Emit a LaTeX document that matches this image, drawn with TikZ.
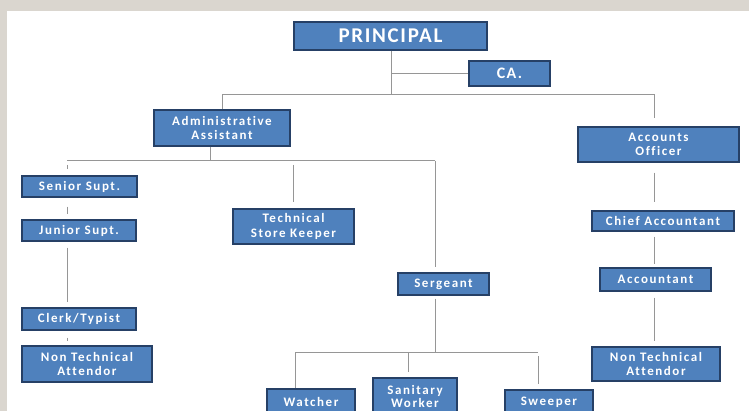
\documentclass[tikz,border=0pt]{standalone}
\usepackage{fontspec}
\usepackage{tikz}
\usetikzlibrary{positioning}
\newfontfamily\boxfont{Carlito}[LetterSpace=12, Ligatures={NoCommon}]
\newfontfamily\headfont{Carlito}[LetterSpace=8, Ligatures={NoCommon}]
\definecolor{boxblue}{RGB}{79,129,189}
\definecolor{boxedge}{RGB}{38,64,102}
\definecolor{linegray}{RGB}{150,150,150}
\definecolor{backgray}{RGB}{218,214,207}

\begin{document}
\begin{tikzpicture}[
    x=1pt, y=-1pt,              % 以像素为单位, y 向下
    % 职位方框样式
    post/.style={
        rectangle,              % 矩形
        draw=boxedge,           % 深蓝边框
        line width=1.2pt,       % 边框线宽
        fill=boxblue,           % 蓝色填充
        text=white,             % 白色文字
        font=\boxfont\bfseries\fontsize{13}{14.5}\selectfont,
        align=center,           % 多行居中
        inner sep=0pt           % 内部填充为0
    },
    % 方框尺寸
    wh/.style 2 args={
        minimum width=#1pt,
        minimum height=#2pt
    },
    % 连线样式
    link/.style={
        draw=linegray,          % 灰色连线
        line width=1pt          % 细线
    }
]

% 背景
\clip (0,0) rectangle (749,411);
\fill[backgray] (0,0) rectangle (749,411);
\fill[white] (7,11) rectangle (749,411);

% 定义节点
\node[post, wh={193}{28}, font=\headfont\bfseries\fontsize{21}{24}\selectfont] (principal) at (390.5,36) {PRINCIPAL};
\node[post, wh={81}{25}, font=\headfont\bfseries\fontsize{16}{20}\selectfont] (ca) at (509.5,73.5) {CA.};
\node[post, wh={136}{36}] (admin) at (222,128) {Administrative\\Assistant};
\node[post, wh={161}{35}] (accounts) at (658.5,144.5) {Accounts\\Officer};
\node[post, wh={115}{21}] (senior) at (79.5,186.5) {Senior Supt.};
\node[post, wh={114}{21}] (junior) at (79,230.5) {Junior Supt.};
\node[post, wh={121}{35}] (store) at (293.5,226.5) {Technical\\Store Keeper};
\node[post, wh={114}{22}] (clerk) at (79,319) {Clerk/Typist};
\node[post, wh={130}{36}] (ntaleft) at (87,364) {Non Technical\\Attendor};
\node[post, wh={91}{22}] (sergeant) at (443.5,284) {Sergeant};
\node[post, wh={88}{26}] (watcher) at (311,402) {Watcher};
\node[post, wh={84}{36}, font=\boxfont\bfseries\fontsize{13}{13}\selectfont] (sanitary) at (415,396) {Sanitary\\Worker};
\node[post, wh={88}{24}] (sweeper) at (549,402) {Sweeper};
\node[post, wh={142}{20}] (chief) at (663,221) {Chief Accountant};
\node[post, wh={111}{23}] (accountant) at (655.5,279.5) {Accountant};
\node[post, wh={128}{34}] (ntaright) at (656,364) {Non Technical\\Attendor};

% 分叉点
\coordinate (hub) at (391,95);
\coordinate (adminbus) at (210,161);
\coordinate (leftline) at (67,161);
\coordinate (sergbus) at (435,352);
\coordinate (rightline) at (654,0);
\coordinate (wbus) at (295,352);
\coordinate (sbus) at (408,352);
\coordinate (swbus) at (538,352);

% 第一层连线
\draw[link] (principal.south -| hub) -- (hub);
\draw[link] (ca.west -| hub) -- (ca.west);
\draw[link] (admin.north) |- (hub);
\draw[link, shorten >=8pt] (hub) -| (accounts.north -| rightline);

% 行政助理一支
\draw[link] (admin.south -| adminbus) -- (adminbus);
\draw[link] (leftline) -- (sergbus |- adminbus);
\draw[link, shorten <=4pt, shorten >=6pt] (leftline) -- (senior.north -| leftline);
\draw[link, shorten <=9pt, shorten >=5pt] (senior.south -| leftline) -- (junior.north -| leftline);
\draw[link, shorten <=6pt, shorten >=5pt] (junior.south -| leftline) -- (clerk.north -| leftline);
\draw[link, shorten <=7pt, shorten >=4pt] (clerk.south -| leftline) -- (ntaleft.north -| leftline);
\draw[link, shorten <=4pt, shorten >=6pt] (store.north |- adminbus) -- (store.north);
\draw[link, shorten >=5pt] (sergbus |- adminbus) -- (sergeant.north -| sergbus);

% 警长一支
\draw[link, shorten <=3pt] (sergeant.south -| sergbus) -- (sergbus);
\draw[link] (wbus) -- (swbus);
\draw[link] (wbus) -- (watcher.north -| wbus);
\draw[link, shorten >=5pt] (sbus) -- (sanitary.north -| sbus);
\draw[link, shorten <=4pt, shorten >=5pt] (swbus) -- (sweeper.north -| swbus);

% 会计一支
\draw[link, shorten <=10pt, shorten >=8pt] (accounts.south -| rightline) -- (chief.north -| rightline);
\draw[link, shorten <=5pt, shorten >=3pt] (chief.south -| rightline) -- (accountant.north -| rightline);
\draw[link, shorten <=6pt, shorten >=5pt] (accountant.south -| rightline) -- (ntaright.north -| rightline);

\end{tikzpicture}
\end{document}
